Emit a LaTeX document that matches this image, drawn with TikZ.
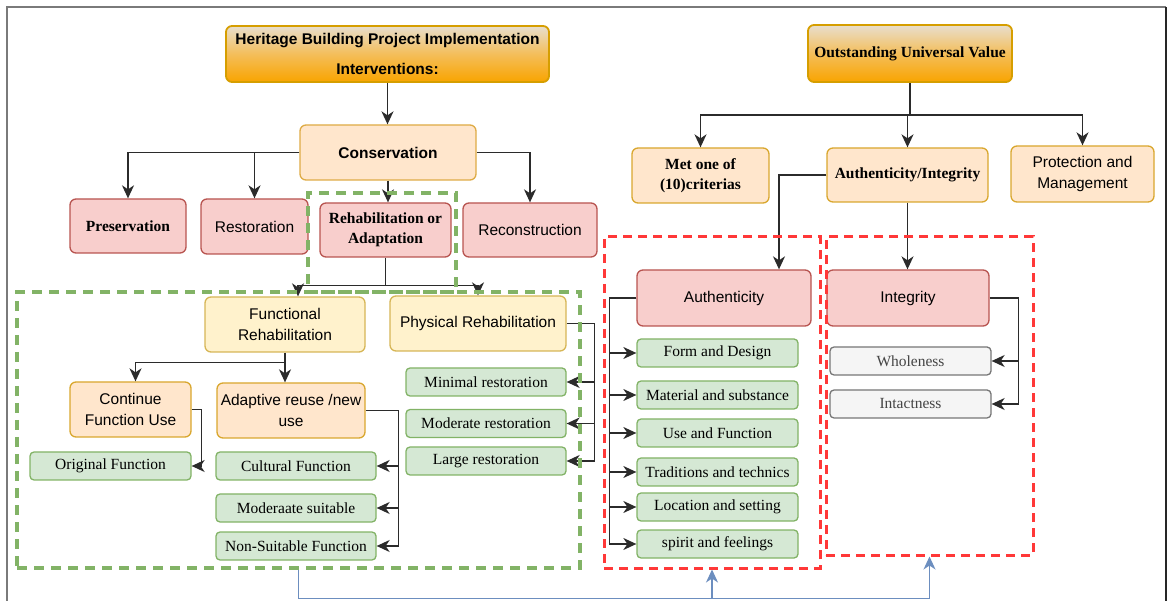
\documentclass[tikz,border=0pt]{standalone}
\usepackage{fontspec}
\setmainfont{Liberation Serif}
\newfontfamily\sansf{Liberation Sans}
\usetikzlibrary{arrows.meta}
\definecolor{lnk}{HTML}{2B2B2B}
\definecolor{peachfill}{HTML}{FFE6CC}
\definecolor{peachdraw}{HTML}{D9A72E}
\definecolor{yelfill}{HTML}{FFF2CC}
\definecolor{yeldraw}{HTML}{D6B656}
\definecolor{redfill}{HTML}{F8CECC}
\definecolor{reddraw}{HTML}{B85450}
\definecolor{grnfill}{HTML}{D5E8D4}
\definecolor{grndraw}{HTML}{82B366}
\definecolor{gryfill}{HTML}{F5F5F5}
\definecolor{grydraw}{HTML}{777777}
\definecolor{grytext}{HTML}{444444}
\definecolor{goldtop}{HTML}{E8DECD}
\definecolor{goldmid}{HTML}{F4BE5A}
\definecolor{goldbot}{HTML}{F9A400}
\definecolor{golddraw}{HTML}{D69E00}
\definecolor{dashred}{HTML}{FF3838}
\definecolor{bluelink}{HTML}{6C8EBF}
\definecolor{framegray}{HTML}{7A7A7A}
\newcommand\dfs{\fontsize{15.5}{20.5}\selectfont}
\begin{document}
\begin{tikzpicture}[x=1pt,y=-1pt,
  base/.style={rounded corners=6pt, line width=1.3pt, align=center, inner sep=2pt, text=black, font=\dfs},
  sf/.style={font=\sansf\dfs},
  gold/.style={base, draw=golddraw, line width=1.8pt, top color=goldtop, bottom color=goldbot, middle color=goldmid},
  peach/.style={base, fill=peachfill, draw=peachdraw},
  yel/.style={base, fill=yelfill, draw=yeldraw},
  rose/.style={base, fill=redfill, draw=reddraw},
  leaf/.style={base, fill=grnfill, draw=grndraw, rounded corners=4pt, minimum width=161pt, minimum height=28pt},
  grey/.style={base, fill=gryfill, draw=grydraw, text=grytext, rounded corners=4pt, minimum width=161pt, minimum height=28pt},
  gdash/.style={draw=grndraw, line width=3.4pt, dash pattern=on 10pt off 7pt, fill=none, inner sep=0pt},
  rdash/.style={draw=dashred, line width=3pt, dash pattern=on 9pt off 6pt, fill=none, inner sep=0pt},
  link/.style={draw=lnk, line width=1.4pt},
  arr/.style={link, -{Stealth[length=13pt,width=12pt,inset=4pt]}},
  blu/.style={draw=bluelink, line width=1.3pt, -{Stealth[length=13pt,width=12pt,inset=4pt,fill=bluelink]}}
]
\useasboundingbox (0,0) rectangle (1168,601);

% outer frame
\draw[framegray, line width=2pt] (7,601) -- (7,7) -- (1166,7);
\draw[black!85, line width=2pt] (1166,7) -- (1166,601);

% ---------- left tree ----------
\node[gold, minimum width=323pt, minimum height=56pt, font=\sansf\bfseries\fontsize{15.5}{30}\selectfont] (her) at (387.5,54)
  {\raisebox{-2pt}{Heritage Building Project Implementation}\\\raisebox{-2pt}{Interventions:}};
\node[peach, sf, draw=yeldraw!80!orange, minimum width=176pt, minimum height=55pt] (cons) at (388,152.5) {\bfseries Conservation};

\node[rose, minimum width=116pt, minimum height=54pt] (pres) at (128,226) {\bfseries Preservation};
\node[rose, sf, minimum width=107pt, minimum height=55pt] (rest) at (254.5,226.5) {Restoration};
\node[rose, minimum width=131pt, minimum height=54pt] (rehab) at (385.5,230) {\bfseries Rehabilitation or\\\bfseries Adaptation};
\node[rose, sf, minimum width=134pt, minimum height=54pt] (recon) at (530,230) {Reconstruction};

\node[yel, sf, minimum width=160pt, minimum height=55pt] (func) at (285,324.5) {Functional\\Rehabilitation};
\node[yel, sf, minimum width=176pt, minimum height=55pt] (phys) at (478,323.5) {Physical Rehabilitation};

\node[peach, sf, minimum width=121pt, minimum height=55pt] (cont) at (130.5,409.5) {Continue\\Function Use};
\node[peach, sf, minimum width=148pt, minimum height=55pt, inner sep=0pt] (adapt) at (291,410.5) {Adaptive reuse /new\\use};

\node[leaf] (orig) at (110.5,466) {Original Function};
\node[leaf, minimum width=160pt] (cult) at (296,466) {Cultural Function};
\node[leaf, minimum width=160pt] (modsuit) at (296,508) {Moderaate suitable};
\node[leaf, minimum width=160pt] (nonsuit) at (296,546) {Non-Suitable Function};

\node[leaf, minimum width=160pt] (minr) at (486,382) {Minimal restoration};
\node[leaf, minimum width=160pt] (modr) at (486,423.5) {Moderate restoration};
\node[leaf, minimum width=160pt] (larr) at (486,461) {Large restoration};

% ---------- right tree ----------
\node[gold, minimum width=204pt, minimum height=57pt, inner sep=0pt] (ouv) at (910,53.5) {\bfseries Outstanding Universal Value};
\node[peach, minimum width=137pt, minimum height=55pt] (met) at (700.5,175.5) {\bfseries Met one of\\\bfseries (10)criterias};
\node[peach, minimum width=161pt, minimum height=54pt, inner sep=0pt] (ai) at (907.5,175) {\bfseries Authenticity/Integrity};
\node[peach, sf, minimum width=143pt, minimum height=56pt] (prot) at (1082.5,174) {Protection and\\Management};

\node[rose, sf, minimum width=174pt, minimum height=56pt] (auth) at (724,298) {Authenticity};
\node[rose, sf, minimum width=162pt, minimum height=56pt] (integ) at (908,298) {Integrity};

\node[leaf] (form) at (717.5,353) {Form and Design};
\node[leaf] (mat) at (717.5,395) {Material and substance};
\node[leaf] (use) at (717.5,433) {Use and Function};
\node[leaf] (trad) at (717.5,472) {Traditions and technics};
\node[leaf] (loc) at (717.5,507) {Location and setting};
\node[leaf] (spir) at (717.5,544) {spirit and feelings};

\node[grey] (whole) at (910.5,361) {Wholeness};
\node[grey] (intact) at (910.5,404) {Intactness};

% ---------- connectors: left tree ----------
\draw[arr] (her.south) -- (her.south |- cons.north);
\draw[arr] (cons.west) -| (pres.north);
\draw[arr] (cons.west) -| (rest.north);
\draw[arr] (cons.east) -| (recon.north);
\draw[arr] (cons.south) -- (cons.south |- rehab.north);

\draw[link] (rehab.south) -- ++(0,28) coordinate (rj);
\draw[arr] (rj) -| ([xshift=13pt]func.north);
\draw[arr] (rj) -| (phys.north);

\draw[link] (func.south) -- ++(0,10) coordinate (fj);
\draw[arr] (fj) -| ([xshift=5pt]cont.north);
\draw[arr] (fj) -- (fj |- adapt.north);

\draw[arr] (cont.east) -- ++(10,0) |- (orig.east);

\draw[link] (adapt.east) -- ++(33,0) coordinate (aj);
\draw[arr] (aj) |- (cult.east);
\draw[arr] (aj) |- (modsuit.east);
\draw[arr] (aj) |- (nonsuit.east);

\draw[link] (phys.east) -- ++(28,0) coordinate (pj);
\draw[arr] (pj) |- (minr.east);
\draw[arr] (pj) |- (modr.east);
\draw[arr] (pj) |- (larr.east);

% ---------- connectors: right tree ----------
\draw[link] (ouv.south) -- ++(0,32) coordinate (oj);
\draw[arr] (oj) -| (met.north);
\draw[arr] (oj) -| (ai.north);
\draw[arr] (oj) -| (prot.north);

\draw[arr] (ai.west) -| ([xshift=55pt]auth.north);
\draw[arr] (ai.south) -- (ai.south |- integ.north);

\draw[link] (auth.west) -- ++(-27,0) coordinate (uj);
\foreach \c in {form,mat,use,trad,loc,spir} \draw[arr] (uj) |- (\c.west);

\draw[link] (integ.east) -- ++(29,0) coordinate (ij);
\draw[arr] (ij) |- (whole.east);
\draw[arr] (ij) |- (intact.east);

% ---------- dashed groups ----------
\node[gdash, minimum width=148pt, minimum height=99pt] (gsmall) at (382,242.5) {};
\node[gdash, minimum width=563pt, minimum height=276pt] (gbig) at (298.5,430) {};
\node[rdash, minimum width=216pt, minimum height=331pt] (rleft) at (712,402.5) {};
\node[rdash, minimum width=207pt, minimum height=318pt] (rright) at (929.5,396) {};

% group link along the bottom
\draw[bluelink, line width=1.3pt] (gbig.south) -- ++(0,29) coordinate (bj);
\draw[blu] (bj) -| (rleft.south);
\draw[blu] (bj) -| (rright.south);
\end{tikzpicture}
\end{document}
